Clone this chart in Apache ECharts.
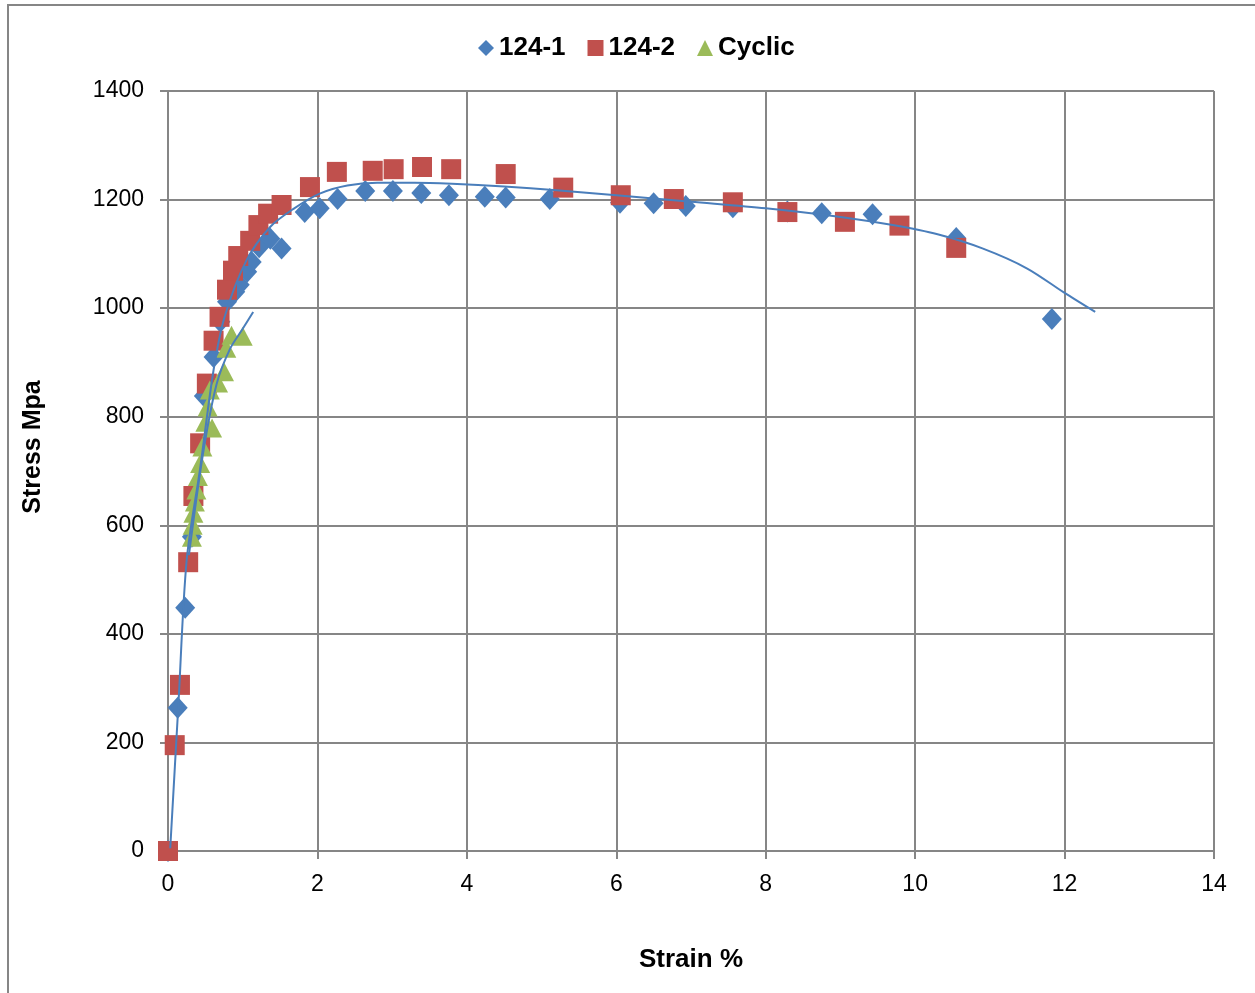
<!DOCTYPE html>
<html>
<head>
<meta charset="utf-8">
<script src="https://cdn.jsdelivr.net/npm/echarts@6/dist/echarts.min.js"></script>
<style>
html, body { margin: 0; padding: 0; background: #fff; }
#chart { width: 1255px; height: 993px; }
</style>
</head>
<body>
<div id="chart"></div>
<script>
// 124-1 specimen
var strain1 = [0, 0.13, 0.23, 0.32, 0.48, 0.61, 0.70, 0.79, 0.90, 0.96, 1.06, 1.12, 1.22, 1.37, 1.52, 1.83, 2.03, 2.27, 2.64, 3.01, 3.39, 3.76, 4.24, 4.52, 5.11, 6.05, 6.50, 6.93, 7.56, 8.29, 8.75, 9.43, 10.55, 11.83];
var stress1 = [0, 264, 448, 579, 838, 910, 975, 1012, 1030, 1043, 1067, 1085, 1112, 1128, 1110, 1177, 1184, 1201, 1216, 1216, 1212, 1208, 1205, 1204, 1201, 1194, 1193, 1188, 1186, 1178, 1175, 1173, 1129, 980];
// 124-2 specimen
var strain2 = [0, 0.09, 0.16, 0.27, 0.34, 0.43, 0.52, 0.61, 0.69, 0.79, 0.87, 0.94, 1.10, 1.21, 1.34, 1.52, 1.90, 2.26, 2.74, 3.02, 3.40, 3.79, 4.52, 5.29, 6.06, 6.77, 7.56, 8.29, 9.06, 9.79, 10.55];
var stress2 = [0, 195, 306, 532, 654, 751, 861, 940, 984, 1034, 1069, 1096, 1124, 1153, 1174, 1190, 1223, 1251, 1253, 1256, 1260, 1256, 1247, 1222, 1208, 1201, 1195, 1177, 1159, 1152, 1111];
// cyclic test
var strain3 = [0.32, 0.33, 0.34, 0.36, 0.38, 0.40, 0.43, 0.46, 0.50, 0.53, 0.56, 0.59, 0.67, 0.75, 0.78, 0.85, 1.00];
var stress3 = [578, 600, 622, 643, 665, 690, 714, 744, 790, 818, 849, 779, 862, 883, 926, 950, 948];
// trend lines
var trendStrain1 = [0.03, 0.14, 0.25, 0.43, 0.61, 0.76, 1.05, 1.37, 1.68, 2.03, 2.40, 2.80, 3.30, 3.80, 4.50, 5.20, 6.00, 7.00, 8.00, 9.00, 9.70, 10.30, 10.90, 11.50, 12.00, 12.41];
var trendStress1 = [5, 272, 536, 705, 886, 985, 1088, 1150, 1183, 1211, 1226, 1231, 1231, 1229, 1224, 1217, 1208, 1196, 1184, 1168, 1153, 1136, 1110, 1073, 1028, 993];
var trendStrain3 = [0.28, 0.47, 0.65, 0.83, 1.00, 1.14];
var trendStress3 = [545, 733, 860, 925, 962, 993];

var xTicks = [0, 2, 4, 6, 8, 10, 12, 14];
var yTicks = [0, 200, 400, 600, 800, 1000, 1200, 1400];

function pairs(xs, ys) {
	var out = [];
	for (var i = 0; i < xs.length; i++) {
		out.push([xs[i], ys[i]]);
	}
	return out;
}

var blue = '#4A7EBB';
var red = '#C0504D';
var green = '#9BBB59';
var gridColor = '#868686';
var font = 'Liberation Sans, Arial, sans-serif';

var myChart = echarts.init(document.getElementById('chart'));
var option = {
	backgroundColor: '#fff',
	animation: false,
	graphic: [{
		type: 'polyline',
		shape: { points: [[8, 993], [8, 5], [1255, 5]] },
		style: { stroke: gridColor, lineWidth: 2, fill: null }
	}, {
		type: 'text',
		x: 33,
		y: 447,
		rotation: Math.PI / 2,
		style: {
			text: 'Stress Mpa',
			align: 'center',
			verticalAlign: 'middle',
			fontFamily: font,
			fontSize: 25,
			fontWeight: 'bold',
			fill: '#000'
		}
	}],
	legend: {
		data: ['124-1', '124-2', 'Cyclic'],
		top: 30,
		left: 473,
		itemGap: 22,
		itemWidth: 16,
		itemHeight: 16,
		textStyle: {
			fontFamily: font,
			fontSize: 26,
			fontWeight: 'bold',
			color: '#000'
		}
	},
	grid: {
		left: 168,
		right: 41,
		top: 91,
		bottom: 142
	},
	xAxis: {
		type: 'value',
		min: xTicks[0],
		max: xTicks[xTicks.length - 1],
		interval: 2,
		name: 'Strain %',
		nameLocation: 'middle',
		nameGap: 96,
		nameTextStyle: {
			fontFamily: font,
			fontSize: 26,
			fontWeight: 'bold',
			color: '#000'
		},
		axisLine: { lineStyle: { color: gridColor, width: 2 } },
		axisTick: { show: true, length: 8, lineStyle: { color: gridColor, width: 2 } },
		splitLine: { show: true, lineStyle: { color: gridColor, width: 2 } },
		axisLabel: {
			fontFamily: font,
			fontSize: 23,
			color: '#000',
			margin: 22
		}
	},
	yAxis: {
		type: 'value',
		min: yTicks[0],
		max: yTicks[yTicks.length - 1],
		interval: 200,
		axisLine: { show: true, lineStyle: { color: gridColor, width: 2 } },
		axisTick: { show: true, length: 8, lineStyle: { color: gridColor, width: 2 } },
		splitLine: { show: true, lineStyle: { color: gridColor, width: 2 } },
		axisLabel: {
			fontFamily: font,
			fontSize: 23,
			color: '#000',
			margin: 24,
			formatter: function(v) { return String(v); }
		}
	},
	series: [{
		name: '124-1',
		type: 'scatter',
		symbol: 'diamond',
		symbolSize: [20, 22],
		itemStyle: { color: blue, opacity: 1 },
		data: pairs(strain1, stress1),
		z: 2
	}, {
		name: '124-2',
		type: 'scatter',
		symbol: 'rect',
		symbolSize: 20,
		itemStyle: { color: red, opacity: 1 },
		data: pairs(strain2, stress2),
		z: 3
	}, {
		name: 'Cyclic',
		type: 'scatter',
		symbol: 'triangle',
		symbolSize: [20, 19],
		itemStyle: { color: green, opacity: 1 },
		data: pairs(strain3, stress3),
		z: 4
	}, {
		name: 'trend 124-1',
		type: 'line',
		showSymbol: false,
		smooth: 0.3,
		lineStyle: { color: blue, width: 2 },
		data: pairs(trendStrain1, trendStress1),
		z: 5
	}, {
		name: 'trend Cyclic',
		type: 'line',
		showSymbol: false,
		smooth: 0.3,
		lineStyle: { color: blue, width: 2 },
		data: pairs(trendStrain3, trendStress3),
		z: 5
	}]
};
myChart.setOption(option);
</script>
</body>
</html>
